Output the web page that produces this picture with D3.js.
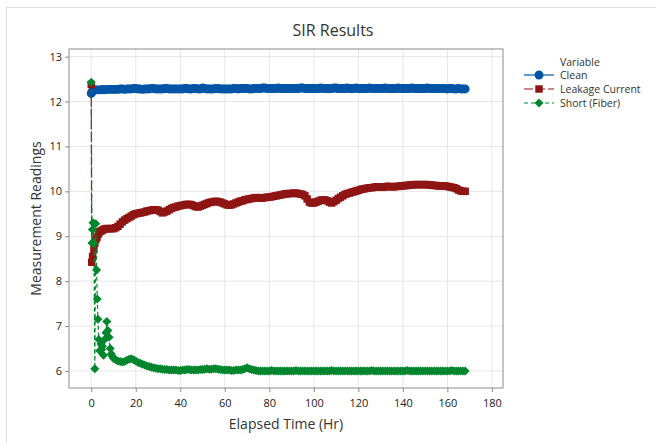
<!DOCTYPE html>
<html>
<head>
<meta charset="utf-8">
<style>
  body { margin: 0; background: #fff; }
  svg text { font-family: "Open Sans", "Noto Sans", sans-serif; }
</style>
</head>
<body>
<svg id="chart"></svg>
<script src="https://cdn.jsdelivr.net/npm/d3@7/dist/d3.min.js"></script>
<script>
const width = 656;
const height = 443;

// data
const xTicks = [0, 20, 40, 60, 80, 100, 120, 140, 160, 180];
const yTicks = [6, 7, 8, 9, 10, 11, 12, 13];
const seriesNames = ["Clean", "Leakage Current", "Short (Fiber)"];

const hours = [10, 11, 12, 13, 14, 15, 16, 17, 18, 19,
  20, 21, 22, 23, 24, 25, 26, 27, 28, 29,
  30, 31, 32, 33, 34, 35, 36, 37, 38, 39,
  40, 41, 42, 43, 44, 45, 46, 47, 48, 49,
  50, 51, 52, 53, 54, 55, 56, 57, 58, 59,
  60, 61, 62, 63, 64, 65, 66, 67, 68, 69,
  70, 71, 72, 73, 74, 75, 76, 77, 78, 79,
  80, 81, 82, 83, 84, 85, 86, 87, 88, 89,
  90, 91, 92, 93, 94, 95, 96, 97, 98, 99,
  100, 101, 102, 103, 104, 105, 106, 107, 108, 109,
  110, 111, 112, 113, 114, 115, 116, 117, 118, 119,
  120, 121, 122, 123, 124, 125, 126, 127, 128, 129,
  130, 131, 132, 133, 134, 135, 136, 137, 138, 139,
  140, 141, 142, 143, 144, 145, 146, 147, 148, 149,
  150, 151, 152, 153, 154, 155, 156, 157, 158, 159,
  160, 161, 162, 163, 164, 165, 166, 167, 168];

const cleanEarlyHours = [0, 0.3, 0.6, 1, 1.5, 2, 3, 4, 5, 6, 7, 8, 9];
const cleanEarlyValues = [12.18, 12.21, 12.23, 12.25, 12.26, 12.26, 12.26, 12.26, 12.27, 12.26, 12.27, 12.27, 12.27];
const cleanValues = [12.27, 12.27, 12.27, 12.28, 12.28, 12.27, 12.28, 12.28, 12.28, 12.29,
  12.29, 12.28, 12.28, 12.27, 12.28, 12.28, 12.28, 12.29, 12.29, 12.28,
  12.28, 12.28, 12.28, 12.29, 12.29, 12.28, 12.28, 12.28, 12.28, 12.28,
  12.28, 12.28, 12.29, 12.29, 12.28, 12.28, 12.29, 12.29, 12.28, 12.28,
  12.30, 12.29, 12.28, 12.28, 12.28, 12.28, 12.29, 12.29, 12.28, 12.28,
  12.28, 12.28, 12.28, 12.28, 12.29, 12.29, 12.28, 12.29, 12.29, 12.29,
  12.29, 12.28, 12.28, 12.29, 12.29, 12.29, 12.29, 12.30, 12.30, 12.29,
  12.29, 12.29, 12.29, 12.29, 12.30, 12.29, 12.29, 12.29, 12.29, 12.29,
  12.29, 12.29, 12.29, 12.29, 12.30, 12.30, 12.29, 12.29, 12.29, 12.29,
  12.29, 12.29, 12.29, 12.30, 12.29, 12.29, 12.29, 12.29, 12.29, 12.30,
  12.30, 12.29, 12.29, 12.29, 12.29, 12.30, 12.29, 12.29, 12.29, 12.30,
  12.29, 12.29, 12.29, 12.29, 12.29, 12.30, 12.29, 12.29, 12.29, 12.29,
  12.29, 12.29, 12.30, 12.29, 12.29, 12.29, 12.29, 12.29, 12.30, 12.29,
  12.29, 12.29, 12.29, 12.29, 12.30, 12.29, 12.29, 12.29, 12.29, 12.29,
  12.29, 12.30, 12.29, 12.29, 12.29, 12.29, 12.29, 12.29, 12.29, 12.29,
  12.28, 12.29, 12.29, 12.28, 12.28, 12.29, 12.28, 12.28, 12.28];

const leakEarlyHours = [0, 0.2, 0.6, 1.2, 1.6, 2.1, 2.6, 3.2, 3.8, 4.5, 5.2, 6, 6.8, 7.6, 8.4, 9.2];
const leakEarlyValues = [12.38, 8.42, 8.55, 8.70, 8.85, 8.93, 8.98, 9.05, 9.10, 9.12, 9.14, 9.16, 9.17, 9.17, 9.17, 9.17];
const leakValues = [9.17, 9.19, 9.22, 9.27, 9.32, 9.36, 9.39, 9.42, 9.45, 9.48,
  9.50, 9.51, 9.52, 9.53, 9.54, 9.56, 9.57, 9.58, 9.59, 9.59,
  9.58, 9.55, 9.52, 9.54, 9.56, 9.59, 9.62, 9.64, 9.65, 9.67,
  9.68, 9.69, 9.70, 9.71, 9.71, 9.70, 9.68, 9.66, 9.65, 9.67,
  9.69, 9.71, 9.73, 9.75, 9.76, 9.77, 9.78, 9.77, 9.76, 9.74,
  9.72, 9.70, 9.69, 9.70, 9.72, 9.74, 9.76, 9.78, 9.79, 9.81,
  9.82, 9.83, 9.84, 9.85, 9.86, 9.86, 9.85, 9.85, 9.86, 9.87,
  9.87, 9.88, 9.89, 9.90, 9.91, 9.92, 9.93, 9.94, 9.95, 9.95,
  9.95, 9.96, 9.96, 9.95, 9.94, 9.93, 9.90, 9.83, 9.76, 9.74,
  9.74, 9.76, 9.78, 9.80, 9.81, 9.81, 9.79, 9.76, 9.74, 9.77,
  9.80, 9.84, 9.87, 9.90, 9.93, 9.95, 9.96, 9.98, 9.99, 10.01,
  10.02, 10.04, 10.05, 10.06, 10.07, 10.08, 10.08, 10.09, 10.10, 10.10,
  10.09, 10.09, 10.10, 10.11, 10.11, 10.10, 10.10, 10.11, 10.11, 10.12,
  10.12, 10.13, 10.13, 10.14, 10.14, 10.15, 10.15, 10.15, 10.15, 10.15,
  10.15, 10.15, 10.14, 10.14, 10.13, 10.13, 10.12, 10.12, 10.12, 10.12,
  10.11, 10.10, 10.09, 10.08, 10.06, 10.03, 10.01, 10.00, 10.00];

const shortEarlyHours = [0, 0.3, 0.5, 0.8, 1.2, 1.6, 2.0, 2.4, 2.7, 3.0, 3.4, 3.8, 4.3, 4.7, 5.0, 5.5, 6.0, 6.6, 7.0, 7.5, 8.0, 8.5, 9.0, 9.5];
const shortEarlyValues = [12.43, 8.85, 9.15, 9.30, 8.85, 6.05, 9.28, 8.25, 7.60, 7.15, 6.70, 6.45, 6.60, 6.48, 6.55, 6.35, 6.70, 6.85, 7.10, 6.90, 6.75, 6.50, 6.38, 6.32];
const shortValues = [6.28, 6.25, 6.22, 6.21, 6.20, 6.21, 6.24, 6.26, 6.27, 6.25,
  6.22, 6.19, 6.17, 6.15, 6.13, 6.11, 6.10, 6.08, 6.07, 6.06,
  6.05, 6.05, 6.04, 6.03, 6.03, 6.02, 6.02, 6.02, 6.02, 6.01,
  6.01, 6.02, 6.02, 6.03, 6.03, 6.02, 6.02, 6.02, 6.02, 6.03,
  6.03, 6.04, 6.05, 6.04, 6.04, 6.05, 6.05, 6.04, 6.03, 6.02,
  6.02, 6.02, 6.02, 6.01, 6.01, 6.02, 6.02, 6.02, 6.03, 6.05,
  6.07, 6.05, 6.03, 6.02, 6.01, 6.00, 6.00, 6.00, 6.00, 6.00,
  6.00, 6.01, 6.00, 6.00, 6.00, 6.00, 6.00, 6.00, 6.00, 6.00,
  6.00, 6.00, 6.01, 6.00, 6.00, 6.00, 6.00, 6.00, 6.00, 6.00,
  6.00, 6.00, 6.00, 6.00, 6.00, 6.00, 6.00, 6.00, 6.01, 6.00,
  6.00, 6.00, 6.00, 6.00, 6.00, 6.00, 6.00, 6.00, 6.00, 6.00,
  6.00, 6.00, 6.00, 6.00, 6.00, 6.00, 6.01, 6.00, 6.00, 6.00,
  6.00, 6.00, 6.00, 6.00, 6.00, 6.00, 6.00, 6.00, 6.00, 6.00,
  6.00, 6.00, 6.01, 6.00, 6.00, 6.00, 6.00, 6.00, 6.00, 6.00,
  6.00, 6.00, 6.00, 6.00, 6.00, 6.00, 6.00, 6.00, 6.00, 6.00,
  6.00, 6.00, 6.01, 6.00, 6.00, 6.00, 6.00, 6.00, 6.00];

const margin = { left: 69, top: 49, right: 503, bottom: 388 };

const svg = d3.select("#chart").attr("width", width).attr("height", height);

// outer frame
svg.append("rect")
  .attr("x", 6.5).attr("y", 7.5)
  .attr("width", width).attr("height", height)
  .attr("fill", "none").attr("stroke", "#dcdcdc");

const x = d3.scaleLinear().domain([-10, 185]).range([margin.left, margin.right]);
const y = d3.scaleLinear().domain([5.62, 13.17]).range([margin.bottom, margin.top]);

// gridlines
svg.append("g").selectAll("line").data(xTicks).enter().append("line")
  .attr("x1", d => x(d)).attr("x2", d => x(d))
  .attr("y1", margin.top).attr("y2", margin.bottom)
  .attr("stroke", "#e6e6e6");
svg.append("g").selectAll("line").data(yTicks).enter().append("line")
  .attr("y1", d => y(d)).attr("y2", d => y(d))
  .attr("x1", margin.left).attr("x2", margin.right)
  .attr("stroke", "#e6e6e6");

// axes
const xAxis = svg.append("g")
  .attr("transform", `translate(0,${margin.bottom})`)
  .call(d3.axisBottom(x).tickValues(xTicks).tickSize(4).tickSizeOuter(0));
const yAxis = svg.append("g")
  .attr("transform", `translate(${margin.left},0)`)
  .call(d3.axisLeft(y).tickValues(yTicks).tickSize(4).tickSizeOuter(0));
[xAxis, yAxis].forEach(a => {
  a.select(".domain").remove();
  a.selectAll("line").attr("stroke", "#8c8c8c");
  a.selectAll("text").attr("fill", "#222").attr("font-size", 11);
});
xAxis.selectAll("text").attr("dy", "1.05em");

svg.append("rect")
  .attr("x", margin.left).attr("y", margin.top)
  .attr("width", margin.right - margin.left).attr("height", margin.bottom - margin.top)
  .attr("fill", "none").attr("stroke", "#8c8c8c");

// series
const series = [
  { name: seriesNames[0], t: cleanEarlyHours.concat(hours), v: cleanEarlyValues.concat(cleanValues),
    color: "#0054a6", dash: null, symbol: d3.symbolCircle, size: 62 },
  { name: seriesNames[1], t: leakEarlyHours.concat(hours), v: leakEarlyValues.concat(leakValues),
    color: "#8f1515", dash: "9,3", symbol: d3.symbolSquare, size: 56 },
  { name: seriesNames[2], t: shortEarlyHours.concat(hours), v: shortEarlyValues.concat(shortValues),
    color: "#00862d", dash: "4,3", symbol: d3.symbolDiamond2, size: 52 }
];

const line = d3.line().x(d => x(d[0])).y(d => y(d[1]));

series.forEach(s => {
  const pts = s.t.map((t, i) => [t, s.v[i]]);
  const g = svg.append("g");
  g.append("path")
    .datum(pts)
    .attr("d", line)
    .attr("fill", "none")
    .attr("stroke", s.color)
    .attr("stroke-width", 1.2)
    .attr("stroke-dasharray", s.dash);
  g.selectAll("path.pt").data(pts).enter().append("path")
    .attr("class", "pt")
    .attr("transform", d => `translate(${x(d[0])},${y(d[1])})`)
    .attr("d", d3.symbol().type(s.symbol).size(s.size))
    .attr("fill", s.color);
});

// titles
svg.append("text").text("SIR Results")
  .attr("x", 333).attr("y", 36)
  .attr("text-anchor", "middle")
  .attr("font-size", 16).attr("fill", "#333");
svg.append("text").text("Elapsed Time (Hr)")
  .attr("x", (margin.left + margin.right) / 2).attr("y", 429)
  .attr("text-anchor", "middle")
  .attr("font-size", 14).attr("fill", "#333");
svg.append("text").text("Measurement Readings")
  .attr("transform", `translate(41,${(margin.top + margin.bottom) / 2}) rotate(-90)`)
  .attr("text-anchor", "middle")
  .attr("font-size", 14).attr("fill", "#333");

// legend
const legend = svg.append("g").attr("transform", "translate(524,62)");
legend.append("text").text("Variable")
  .attr("x", 36).attr("y", 4)
  .attr("font-size", 10.5).attr("fill", "#333");
series.forEach((s, i) => {
  const row = legend.append("g").attr("transform", `translate(0,${13 + i * 14})`);
  row.append("line")
    .attr("x1", 0).attr("x2", 30).attr("y1", 0).attr("y2", 0)
    .attr("stroke", s.color).attr("stroke-width", 1.2)
    .attr("stroke-dasharray", s.dash);
  row.append("path")
    .attr("transform", "translate(15,0)")
    .attr("d", d3.symbol().type(s.symbol).size(s.size))
    .attr("fill", s.color);
  row.append("text").text(s.name)
    .attr("x", 36).attr("y", 4)
    .attr("font-size", 10.5).attr("fill", "#333");
});
</script>
</body>
</html>
